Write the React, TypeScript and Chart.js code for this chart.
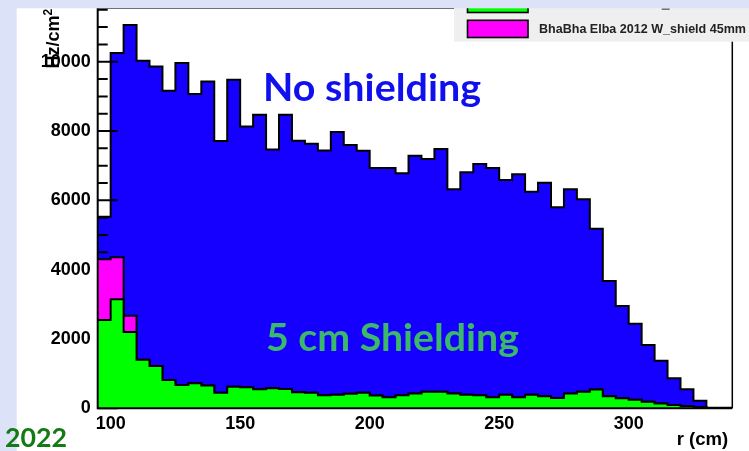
import React, { useEffect, useRef } from "react";
import { Chart, registerables } from "chart.js";

Chart.register(...registerables);

// ---- data (bin left edges in cm, values in Hz/cm^2) ----
const binLeftEdges = [
  95, 100, 105, 110, 115, 120, 125, 130, 135, 140, 145, 150, 155, 160, 165, 170,
  175, 180, 185, 190, 195, 200, 205, 210, 215, 220, 225, 230, 235, 240, 245, 250,
  255, 260, 265, 270, 275, 280, 285, 290, 295, 300, 305, 310, 315, 320, 325, 330, 335,
];
const histRightEdge = 340;

const noShielding = [
  5530, 10250, 11060, 10030, 9860, 9160, 9960, 9070, 9430, 7710, 9480, 8130, 8470, 7470, 8470, 7720,
  7630, 7440, 7970, 7600, 7430, 6930, 6930, 6780, 7290, 7190, 7480, 6320, 6810, 7050, 6930, 6590,
  6750, 6250, 6510, 5800, 6320, 6030, 5180, 3670, 2950, 2440, 1830, 1370, 870, 550, 220, 15, 15,
];

const wShield45mm = [
  4300, 4360, 2670, 1400, 1220, 820, 670, 720, 660, 450, 620, 610, 550, 580, 560, 460,
  450, 375, 390, 420, 450, 370, 320, 375, 430, 480, 480, 430, 390, 375, 320, 390,
  320, 390, 345, 300, 430, 480, 540, 345, 290, 250, 190, 135, 95, 65, 35, 5, 0,
];

const shield5cm = [
  2550, 3150, 2200, 1400, 1220, 820, 670, 720, 660, 450, 620, 610, 550, 580, 560, 460,
  450, 375, 390, 420, 450, 370, 320, 375, 430, 480, 480, 430, 390, 375, 320, 390,
  320, 390, 345, 300, 430, 480, 540, 345, 290, 250, 190, 135, 95, 65, 35, 5, 0,
];

const xTickValues = [100, 150, 200, 250, 300];
const yTickValues = [0, 2000, 4000, 6000, 8000, 10000];
const yMinorTickValues = [
  500, 1000, 1500, 2500, 3000, 3500, 4500, 5000, 5500, 6500, 7000, 7500, 8500, 9000, 9500,
  10500, 11000, 11500,
];

const legendLabel = "BhaBha Elba 2012 W_shield 45mm";
const xTitle = "r (cm)";
const yTitle = "Hz/cm";
const annotationNoShield = "No shielding";
const annotationShield = "5 cm Shielding";
const yearLabel = "2022";

function toSteps(values: number[]) {
  const pts = binLeftEdges.map((x, i) => ({ x, y: values[i] }));
  pts.push({ x: histRightEdge, y: values[values.length - 1] });
  return pts;
}

const rootAxisPlugin = {
  id: "rootAxis",
  afterDatasetDraw(chart: any, args: any) {
    // ticks are drawn after the first (blue) histogram, under the others
    if (args.index !== 2) return;
    const { ctx, chartArea, scales } = chart;
    const y = scales.y;
    ctx.save();
    ctx.strokeStyle = "#000";
    ctx.lineWidth = 2;
    ctx.beginPath();
    for (const v of yTickValues) {
      const py = y.getPixelForValue(v);
      ctx.moveTo(chartArea.left, py);
      ctx.lineTo(chartArea.left + 20, py);
    }
    for (const v of yMinorTickValues) {
      const py = y.getPixelForValue(v);
      ctx.moveTo(chartArea.left, py);
      ctx.lineTo(chartArea.left + 10, py);
    }
    ctx.stroke();
    ctx.restore();
  },
  afterDatasetsDraw(chart: any) {
    const { ctx, chartArea } = chart;
    ctx.save();
    ctx.strokeStyle = "#000";
    ctx.lineWidth = 2;
    ctx.beginPath();
    ctx.moveTo(chartArea.left, chartArea.top);
    ctx.lineTo(chartArea.left, chartArea.bottom);
    ctx.lineTo(chartArea.right, chartArea.bottom);
    ctx.stroke();
    ctx.lineWidth = 1.5;
    ctx.beginPath();
    ctx.moveTo(chartArea.right, chartArea.bottom);
    ctx.lineTo(chartArea.right, chartArea.top);
    ctx.lineTo(chartArea.left, chartArea.top);
    ctx.stroke();
    ctx.restore();
  },
};

function zeroPadding(s: any) {
  s.paddingTop = 0;
  s.paddingBottom = 0;
  s.paddingLeft = 0;
  s.paddingRight = 0;
}

export default function App() {
  const canvasRef = useRef<HTMLCanvasElement | null>(null);

  useEffect(() => {
    if (!canvasRef.current) return;
    const tickFont = { family: "'Liberation Sans', Arial, sans-serif", size: 18, weight: "bold" as const };
    const chart = new Chart(canvasRef.current, {
      type: "line",
      data: {
        datasets: [
          {
            label: "5 cm shielding",
            data: toSteps(shield5cm),
            stepped: "before",
            borderColor: "#000",
            borderWidth: 2,
            backgroundColor: "#00ff00",
            fill: "origin",
            pointRadius: 0,
          },
          {
            label: legendLabel,
            data: toSteps(wShield45mm),
            stepped: "before",
            borderColor: "#000",
            borderWidth: 2,
            backgroundColor: "#ff00ff",
            fill: "origin",
            pointRadius: 0,
          },
          {
            label: "No shielding",
            data: toSteps(noShielding),
            stepped: "before",
            borderColor: "#000",
            borderWidth: 2,
            backgroundColor: "#1500ff",
            fill: "origin",
            pointRadius: 0,
          },
        ],
      },
      options: {
        animation: false,
        responsive: false,
        devicePixelRatio: 1,
        events: [],
        layout: { padding: { left: 0, right: 16.7, top: 8, bottom: 0 } },
        plugins: { legend: { display: false }, tooltip: { enabled: false }, title: { display: false } },
        scales: {
          x: {
            type: "linear",
            min: 95,
            max: 340,
            grid: { display: false, drawTicks: false },
            border: { display: false },
            ticks: { font: tickFont, color: "#000", padding: 5, maxRotation: 0, callback: (v: any) => String(v) },
            afterBuildTicks: (s: any) => {
              s.ticks = xTickValues.map((v) => ({ value: v }));
            },
            afterFit: (s: any) => {
              s.height = 42.7;
              zeroPadding(s);
            },
          },
          y: {
            type: "linear",
            min: 0,
            max: 11550,
            grid: { display: false, drawTicks: false },
            border: { display: false },
            ticks: { font: tickFont, color: "#000", padding: 7, callback: (v: any) => String(v) },
            afterBuildTicks: (s: any) => {
              s.ticks = yTickValues.map((v) => ({ value: v }));
            },
            afterFit: (s: any) => {
              s.width = 97.7;
              zeroPadding(s);
            },
          },
        },
      },
      plugins: [rootAxisPlugin],
    });
    return () => chart.destroy();
  }, []);

  const band = "#dce3f9";
  return (
    <div style={{ position: "absolute", left: 0, top: 0, width: 749, height: 451, background: "#fff", overflow: "hidden" }}>
      <canvas ref={canvasRef} width={749} height={451} style={{ position: "absolute", left: 0, top: 0, width: 749, height: 451 }} />
      <svg width={749} height={451} style={{ position: "absolute", left: 0, top: 0, pointerEvents: "none" }}>
        {/* legend */}
        <rect x={454} y={0} width={300} height={41.7} fill="#efefef" />
        <rect x={467.5} y={-8} width={60.5} height={20.5} fill="#00ff00" stroke="#000" strokeWidth={1.6} />
        <rect x={467.5} y={20.3} width={60.5} height={17.2} fill="#ff00ff" stroke="#000" strokeWidth={1.6} />
        <rect x={661.7} y={8.4} width={8} height={1.4} fill="#555" />
        <text x={539} y={33.3} fontFamily="'Liberation Sans', Arial, sans-serif" fontWeight="bold" fontSize={12.5} fill="#222" textLength={207} lengthAdjust="spacingAndGlyphs">
          {legendLabel}
        </text>
        {/* annotations */}
        <text x={263} y={100.7} fontFamily="Lato, 'Open Sans', sans-serif" fontWeight="bold" fontSize={38} fill="#1010ee" textLength={218} lengthAdjust="spacingAndGlyphs">
          {annotationNoShield}
        </text>
        <text x={266} y={351} fontFamily="Lato, 'Open Sans', sans-serif" fontWeight="bold" fontSize={38} fill="#3cb86a" textLength={253} lengthAdjust="spacingAndGlyphs">
          {annotationShield}
        </text>
        {/* axis titles */}
        <text x={676.7} y={445} fontFamily="'Liberation Sans', Arial, sans-serif" fontWeight="bold" fontSize={18} fill="#000" textLength={51.6} lengthAdjust="spacingAndGlyphs">
          {xTitle}
        </text>
        <text transform="translate(59,68.5) rotate(-90)" fontFamily="'Liberation Sans', Arial, sans-serif" fontWeight="bold" fontSize={18} fill="#000">
          {yTitle}
          <tspan dy={-7} fontSize={12}>2</tspan>
        </text>
        {/* slide background bands */}
        <rect x={0} y={0} width={749} height={8.3} fill={band} />
        <rect x={0} y={0} width={16.7} height={451} fill={band} />
        <text x={5} y={447} fontFamily="Lato, 'Open Sans', sans-serif" fontWeight="bold" fontSize={26} fill="#147a14" textLength={62} lengthAdjust="spacingAndGlyphs">
          {yearLabel}
        </text>
      </svg>
    </div>
  );
}
